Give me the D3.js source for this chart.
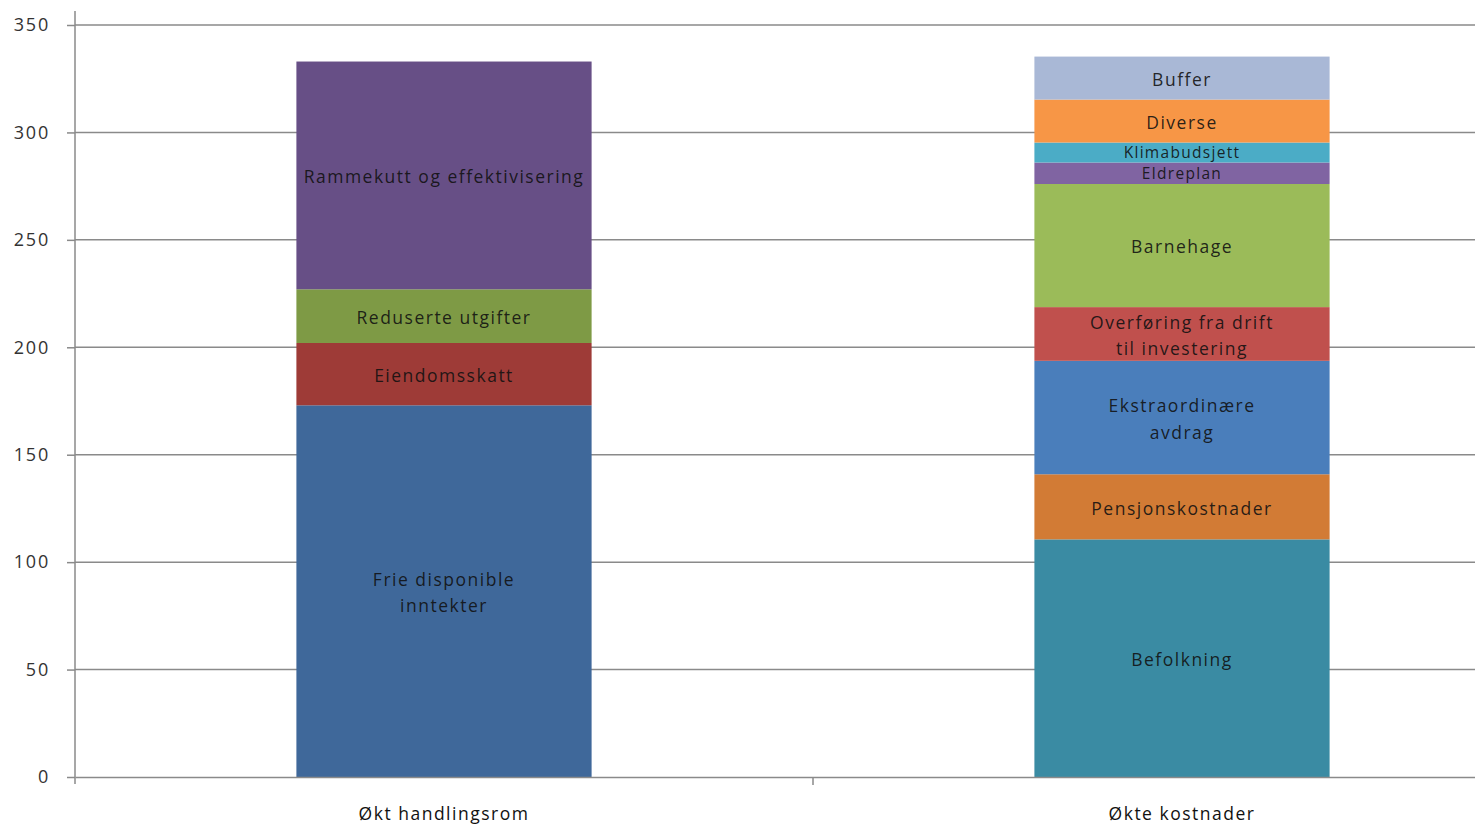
<!DOCTYPE html>
<html><head><meta charset="utf-8">
<script src="https://cdn.jsdelivr.net/npm/d3@7"></script>
<style>body{margin:0;background:#fff;} svg{display:block;} text{font-family:"Open Sans",Lato,sans-serif;}</style>
</head><body><svg id="c" width="1475" height="824"></svg>
<script>
const categories = ["Økt handlingsrom", "Økte kostnader"];
const leftLabels = ["Frie disponible\ninntekter", "Eiendomsskatt", "Reduserte utgifter", "Rammekutt  og effektivisering"];
const leftValues = [173, 29, 25, 106];
const leftColors = ["#3F689A", "#9E3B37", "#7E9A45", "#674F86"];
const rightLabels = ["Befolkning", "Pensjonskostnader", "Ekstraordinære\navdrag", "Overføring fra drift\ntil investering", "Barnehage", "Eldreplan", "Klimabudsjett", "Diverse", "Buffer"];
const rightValues = [110.6, 30.3, 52.8, 25, 57.3, 10, 9.3, 20, 20];
const rightColors = ["#3A8BA3", "#D27B35", "#4A7EBB", "#C0504D", "#9BBB59", "#8064A2", "#4BACC6", "#F79646", "#A9B8D6"];
const yTicks = [0, 50, 100, 150, 200, 250, 300, 350];

const svg = d3.select("#c");
const y = d3.scaleLinear().domain([0, 350]).range([777, 25]);
const x = d3.scaleBand().domain(categories).range([75, 1551]).paddingInner(0.6).paddingOuter(0.3);

// gridlines
svg.append("g").selectAll("line").data(yTicks.slice(1)).join("line")
  .attr("x1", 75).attr("x2", 1475).attr("y1", d => y(d)).attr("y2", d => y(d))
  .attr("stroke", "#8a8a8a").attr("stroke-width", 1.5);

// bars
function stack(cat, labels, values, colors) {
  let acc = 0;
  return values.map((v, i) => { const s = {cat, label: labels[i], y0: acc, y1: acc + v, color: colors[i]}; acc += v; return s; });
}
const segs = stack(categories[0], leftLabels, leftValues, leftColors).concat(stack(categories[1], rightLabels, rightValues, rightColors));
const bw = x.bandwidth();
svg.append("g").selectAll("rect").data(segs).join("rect")
  .attr("x", d => x(d.cat)).attr("width", bw)
  .attr("y", d => y(d.y1)).attr("height", d => y(d.y0) - y(d.y1))
  .attr("fill", d => d.color);

const small = d => (y(d.y0) - y(d.y1)) < 24;
const lab = svg.append("g").selectAll("text").data(segs).join("text")
  .attr("x", d => x(d.cat) + bw / 2)
  .attr("y", d => (y(d.y0) + y(d.y1)) / 2)
  .attr("text-anchor", "middle").attr("font-size", d => small(d) ? 15.5 : 17.5)
  .attr("fill", "#111").attr("fill-opacity", 0.9)
  .attr("letter-spacing", d => small(d) ? 1.3 : 1.5);
lab.each(function(d) {
  const lines = d.label.split("\n");
  const t = d3.select(this);
  lines.forEach((l, i) => {
    t.append("tspan").attr("x", x(d.cat) + bw / 2)
      .attr("dy", i === 0 ? ((small(d) ? 0.38 : 0.45) - (lines.length - 1) * 0.76) + "em" : "1.52em").text(l);
  });
});

// axes
const yAxis = d3.axisLeft(y).tickValues(yTicks).tickSize(8).tickPadding(17);
const gy = svg.append("g").attr("transform", "translate(75,0)").call(yAxis);
gy.select(".domain").attr("stroke", "#8a8a8a").attr("stroke-width", 1.5).attr("d", "M0,11V784");
gy.selectAll(".tick line").attr("stroke", "#8a8a8a").attr("stroke-width", 1.5);
gy.selectAll(".tick text").attr("font-size", 18).attr("fill", "#333").attr("font-family", "'Open Sans',sans-serif").attr("letter-spacing", 1.8);

const xAxis = d3.axisBottom(x).tickSize(0).tickPadding(31);
const gx = svg.append("g").attr("transform", "translate(0,777)").call(xAxis);
gx.select(".domain").attr("stroke", "#8a8a8a").attr("stroke-width", 1.5);
gx.selectAll(".tick text").attr("font-size", 17.5).attr("fill", "#111").attr("font-family", "'Open Sans',sans-serif").attr("letter-spacing", 1.5);
// category separator tick
svg.append("line").attr("x1", 75 + (x(categories[1]) - x(categories[0]))).attr("x2", 75 + (x(categories[1]) - x(categories[0])))
  .attr("y1", 777).attr("y2", 785).attr("stroke", "#8a8a8a").attr("stroke-width", 1.5);
</script></body></html>
